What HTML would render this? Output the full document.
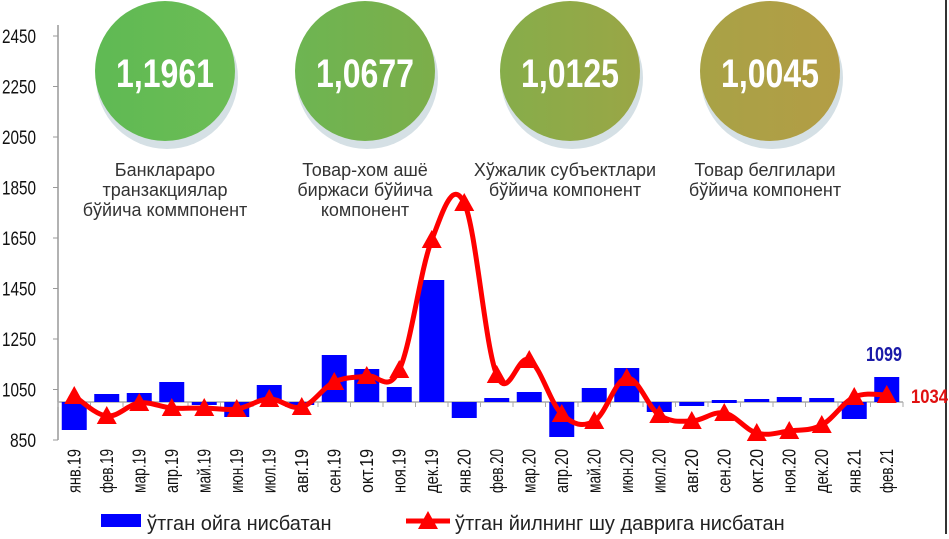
<!DOCTYPE html>
<html><head><meta charset="utf-8">
<style>
body{margin:0;background:#fff;width:949px;height:534px;overflow:hidden;font-family:"Liberation Sans",sans-serif}
</style></head><body>
<svg id="s" width="949" height="534" xmlns="http://www.w3.org/2000/svg">
<line x1="946" y1="0" x2="946" y2="534" stroke="#333" stroke-width="2"/>
<g id="g"></g>
</svg>
<script>
const NS="http://www.w3.org/2000/svg",g=document.getElementById('g');
function el(t,a,txt){const e=document.createElementNS(NS,t);for(const k in a)e.setAttribute(k,a[k]);if(txt!==undefined)e.textContent=txt;g.appendChild(e);return e;}
const NF='Liberation Sans Narrow, Liberation Sans, sans-serif';
const circ=[[165,'#5fba54','#6cbc55','1,1961'],[365,'#6db552','#7cae4a','1,0677'],[570,'#86ad4a','#9aa646','1,0125'],[770,'#a8a246','#b39d45','1,0045']];
circ.forEach((c,i)=>{
 el('circle',{cx:c[0]+2,cy:78,r:71,fill:'#d5e0e5'});
 const id='lg'+i;const lg=el('linearGradient',{id:id,x1:0,y1:0,x2:1,y2:0});
 lg.innerHTML='<stop offset="0" stop-color="'+c[1]+'"/><stop offset="1" stop-color="'+c[2]+'"/>';
 el('circle',{cx:c[0],cy:71,r:70,fill:'url(#'+id+')'});
 el('text',{x:c[0],y:87,'text-anchor':'middle',fill:'#fff','font-size':40,'font-weight':'bold','font-family':NF,textLength:98,lengthAdjust:'spacingAndGlyphs'},c[3]);
});
const caps=[[165,['Банклараро','транзакциялар','бўйича коммпонент']],[365,['Товар-хом ашё','биржаси бўйича','компонент']],[565,['Хўжалик субъектлари','бўйича компонент']],[765,['Товар белгилари','бўйича компонент']]];
caps.forEach(c=>c[1].forEach((t,j)=>el('text',{x:c[0],y:176+j*20,'text-anchor':'middle',fill:'#333','font-size':18},t)));
el('line',{x1:58,y1:25,x2:58,y2:440,stroke:'#999','stroke-width':1.5});
const ticks=[2450,2250,2050,1850,1650,1450,1250,1050,850];
const Y=v=>440-(v-850)*0.2525;
ticks.forEach(v=>{const y=Y(v);el('line',{x1:53,y1:y,x2:58,y2:y,stroke:'#999'});
 const s=''+v;
 el('text',{x:s.length==4?2:10,y:y+7,fill:'#111','font-size':19,'font-family':NF,textLength:s.length==4?34:26,lengthAdjust:'spacingAndGlyphs'},s);});
el('line',{x1:58,y1:402,x2:903,y2:402,stroke:'#aaa','stroke-width':1.5});
const labels=['янв.19','фев.19','мар.19','апр.19','май.19','июн.19','июл.19','авг.19','сен.19','окт.19','ноя.19','дек.19','янв.20','фев.20','мар.20','апр.20','май.20','июн.20','июл.20','авг.20','сен.20','окт.20','ноя.20','дек.20','янв.21','фев.21'];
const bars=[430,394,393,382,405,417,385,405,355,369,387,280,418,398,392,437,388,368,412,406,400,399,397,398,419,377];
const line=[396,416,403,408,408,409,399,407,382,376,370,240,203,375,360,414,421,378,415,421,413,433,431,425,397,395];
const X=i=>74.25+i*32.5;
for(let i=0;i<=26;i++){const x=58+i*32.5;el('line',{x1:x,y1:402,x2:x,y2:407,stroke:'#aaa'});}
bars.forEach((b,i)=>{const y1=Math.min(b,402),h=Math.abs(b-402);el('rect',{x:X(i)-12.5,y:y1,width:25,height:Math.max(h,3),fill:'#0000ff'});});
labels.forEach((l,i)=>{el('text',{transform:'translate('+(X(i)+6)+',449) rotate(-90)','text-anchor':'end',fill:'#111','font-size':18,'font-family':NF,textLength:44,lengthAdjust:'spacingAndGlyphs'},l);});
let d='M'+X(0)+','+line[0];
for(let i=0;i<line.length-1;i++){
 const p0=[X(Math.max(i-1,0)),line[Math.max(i-1,0)]],p1=[X(i),line[i]],p2=[X(i+1),line[i+1]],p3=[X(Math.min(i+2,25)),line[Math.min(i+2,25)]];
 const t=0.18;
 d+=' C'+(p1[0]+(p2[0]-p0[0])*t)+','+(p1[1]+(p2[1]-p0[1])*t)+' '+(p2[0]-(p3[0]-p1[0])*t)+','+(p2[1]-(p3[1]-p1[1])*t)+' '+p2[0]+','+p2[1];
}
el('path',{d:d,fill:'none',stroke:'#ff0000','stroke-width':5,'stroke-linejoin':'round'});
const tri=(x,y)=>el('polygon',{points:(x)+','+(y-10)+' '+(x-10)+','+(y+8)+' '+(x+10)+','+(y+8),fill:'#ff0000'});
line.forEach((y,i)=>tri(X(i),y));
el('text',{x:866,y:361,fill:'#1a1aa8','font-size':20,'font-weight':'bold','font-family':NF,textLength:36,lengthAdjust:'spacingAndGlyphs'},'1099');
el('text',{x:911,y:403,fill:'#e01010','font-size':19,'font-weight':'bold','font-family':NF,textLength:37,lengthAdjust:'spacingAndGlyphs'},'1034');
el('rect',{x:101,y:514,width:40,height:13,fill:'#0000ff'});
el('text',{x:147,y:530,fill:'#222','font-size':20},'ўтган ойга нисбатан');
el('line',{x1:406,y1:521,x2:450,y2:521,stroke:'#ff0000','stroke-width':5});
tri(428,521);
el('text',{x:455,y:530,fill:'#222','font-size':20},'ўтган йилнинг шу даврига нисбатан');
</script>
</body></html>
